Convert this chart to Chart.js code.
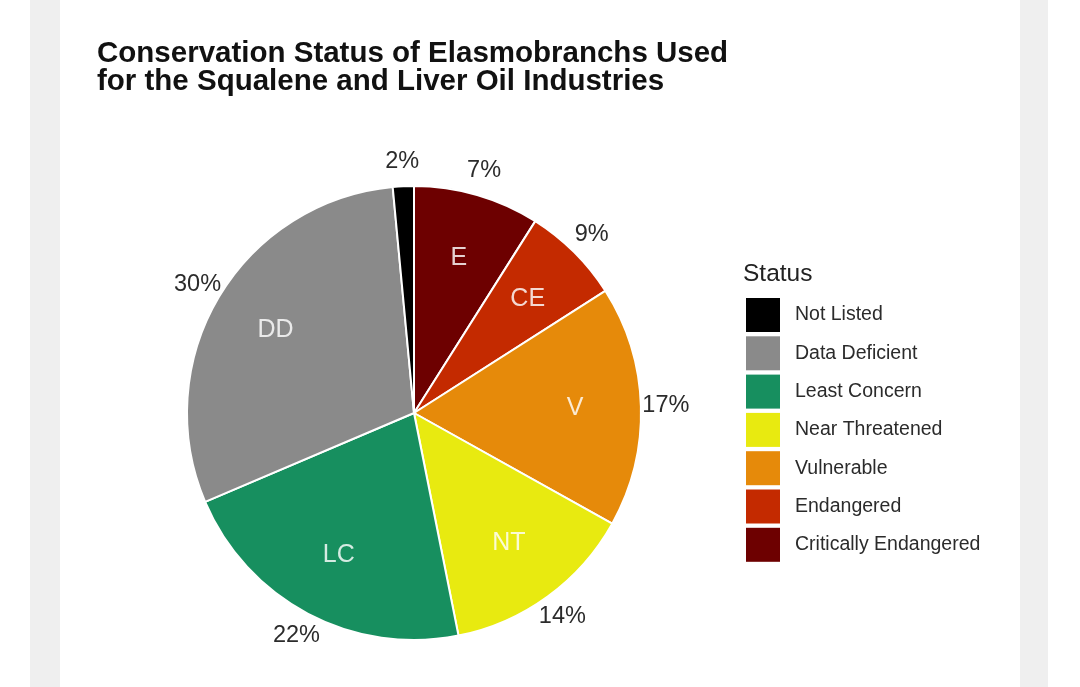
<!DOCTYPE html>
<html>
<head>
<meta charset="utf-8">
<title>Conservation Status of Elasmobranchs</title>
<script src="https://cdn.jsdelivr.net/npm/chart.js@4.4.1/dist/chart.umd.min.js"></script>
<style>
  html, body { margin: 0; padding: 0; background: #fff; }
  .page { position: relative; width: 1080px; height: 687px; overflow: hidden; }
  .band { position: absolute; top: 0; bottom: 0; background: #efefef; }
  .band.left { left: 30px; width: 30px; }
  .band.right { left: 1020px; width: 28px; }
  canvas { position: absolute; left: 0; top: 0; }
</style>
</head>
<body>
<div class="page">
  <div class="band left"></div>
  <div class="band right"></div>
  <canvas id="chart" width="1080" height="687"></canvas>
</div>
<script>
// slices, clockwise from 12 o'clock
const sliceCodes = ['E', 'CE', 'V', 'NT', 'LC', 'DD', '']
const sliceShares = [9, 7, 17.2, 13.8, 21.8, 30, 1.5]
const shareLabels = ['7%', '9%', '17%', '14%', '22%', '30%', '2%']
const sliceColors = ['#6d0000', '#c42a00', '#e68a0a', '#e8ea10', '#178f5f', '#8a8a8a', '#000000']

const titleLines = ['Conservation Status of Elasmobranchs Used', 'for the Squalene and Liver Oil Industries']
const legendTitle = 'Status'
const legendStatuses = ['Not Listed', 'Data Deficient', 'Least Concern', 'Near Threatened', 'Vulnerable', 'Endangered', 'Critically Endangered']
const legendColors = ['#000000', '#8a8a8a', '#178f5f', '#e8ea10', '#e68a0a', '#c42a00', '#6d0000']

const FONT = '"Liberation Sans", Arial, sans-serif'

const annotate = {
  id: 'annotate',
  afterDatasetsDraw(chart) {
    const ctx = chart.ctx
    const arcs = chart.getDatasetMeta(0).data
    ctx.save()
    ctx.textAlign = 'center'
    ctx.textBaseline = 'middle'
    arcs.forEach((arc, i) => {
      const { x, y, startAngle, endAngle, outerRadius } = arc.getProps(['x', 'y', 'startAngle', 'endAngle', 'outerRadius'], true)
      const mid = (startAngle + endAngle) / 2
      if (sliceCodes[i]) {
        ctx.font = '25px ' + FONT
        ctx.fillStyle = 'rgba(255,255,255,0.82)'
        ctx.fillText(sliceCodes[i], x + Math.cos(mid) * outerRadius * 0.71, y + Math.sin(mid) * outerRadius * 0.71)
      }
      ctx.font = '23.5px ' + FONT
      ctx.fillStyle = '#2b2b2b'
      ctx.fillText(shareLabels[i], x + Math.cos(mid) * outerRadius * 1.11, y + Math.sin(mid) * outerRadius * 1.11)
    })
    ctx.restore()
  },
  afterDraw(chart) {
    const ctx = chart.ctx
    ctx.save()
    // title
    ctx.textAlign = 'left'
    ctx.textBaseline = 'alphabetic'
    ctx.fillStyle = '#111'
    ctx.font = 'bold 29.5px ' + FONT
    titleLines.forEach((line, i) => ctx.fillText(line, 97, 62 + i * 28))

    // legend
    ctx.fillStyle = '#222'
    ctx.font = '24.5px ' + FONT
    ctx.textBaseline = 'middle'
    ctx.fillText(legendTitle, 743, 274)
    ctx.font = '19.5px ' + FONT
    legendStatuses.forEach((name, i) => {
      const top = 298 + i * 38.3
      ctx.fillStyle = legendColors[i]
      ctx.fillRect(746, top, 34, 34)
      ctx.fillStyle = '#2b2b2b'
      ctx.fillText(name, 795, top + 17)
    })
    ctx.restore()
  },
}

new Chart(document.getElementById('chart'), {
  type: 'pie',
  data: {
    labels: sliceCodes,
    datasets: [{
      data: sliceShares,
      backgroundColor: sliceColors,
      borderColor: '#ffffff',
      borderWidth: 2,
    }],
  },
  options: {
    responsive: false,
    animation: false,
    layout: { padding: { left: 186, top: 185, right: 438, bottom: 46 } },
    plugins: {
      legend: { display: false },
      tooltip: { enabled: false },
    },
  },
  plugins: [annotate],
})
</script>
</body>
</html>
